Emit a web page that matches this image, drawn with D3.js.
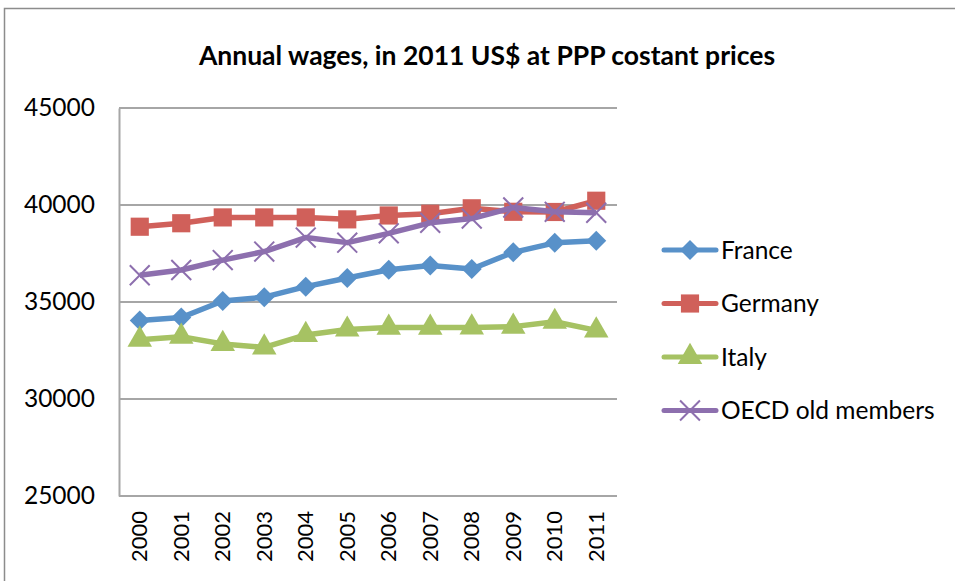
<!DOCTYPE html>
<html>
<head>
<meta charset="utf-8">
<script src="https://cdn.jsdelivr.net/npm/d3@7"></script>
<style>
  body { margin: 0; background: #fff; }
  text { font-family: Lato, "Open Sans", sans-serif; fill: #000; }
</style>
</head>
<body>
<script>
// values
var years = ["2000","2001","2002","2003","2004","2005","2006","2007","2008","2009","2010","2011"]
var france  = [34050, 34200, 35050, 35250, 35790, 36240, 36660, 36880, 36700, 37560, 38050, 38160]
var germany = [38880, 39060, 39360, 39360, 39360, 39260, 39460, 39550, 39830, 39650, 39640, 40220]
var italy   = [33060, 33210, 32840, 32660, 33300, 33580, 33680, 33680, 33690, 33730, 33980, 33540]
var oecd    = [36380, 36650, 37160, 37600, 38320, 38060, 38540, 39080, 39300, 39870, 39650, 39600]
var seriesNames = ["France", "Germany", "Italy", "OECD old members"]
var yTicks = [25000, 30000, 35000, 40000, 45000]

var width = 955
    height = 581
var plot = {left: 119, right: 617, top: 108, bottom: 496}

var svg = d3.select("body")
  .append("svg")
    .attr("width", width)
    .attr("height", height)

// chart frame
svg.append("rect")
  .attr("x", 4.5).attr("y", 8.5)
  .attr("width", 960).attr("height", 600)
  .attr("fill", "none")
  .attr("stroke", "#8c8c8c")
  .attr("stroke-width", 1.5)

svg.append("text")
  .attr("x", 487).attr("y", 65)
  .attr("text-anchor", "middle")
  .style("font-size", "26.5px")
  .style("font-weight", "bold")
  .text("Annual wages, in 2011 US$ at PPP costant prices")

var x = d3.scaleBand().domain(years).range([plot.left, plot.right])
var y = d3.scaleLinear().domain([25000, 45000]).range([plot.bottom, plot.top])

// gridlines
svg.append("g")
  .selectAll("line")
  .data(yTicks)
  .enter()
  .append("line")
    .attr("x1", plot.left).attr("x2", plot.right)
    .attr("y1", function(d){ return y(d) }).attr("y2", function(d){ return y(d) })
    .attr("stroke", "#a6a6a6")
    .attr("stroke-width", 2)

// y axis
var yAxis = svg.append("g")
  .attr("transform", "translate(" + plot.left + ",0)")
  .call(d3.axisLeft(y).tickValues(yTicks).tickSize(0).tickPadding(24).tickFormat(d3.format("d")))
yAxis.select(".domain").attr("stroke", "#a6a6a6").attr("stroke-width", 2)
yAxis.selectAll("text").style("font-size", "24.5px").style("font-family", "Lato, 'Open Sans', sans-serif")

// x axis labels, rotated
var xAxis = svg.append("g")
  .attr("transform", "translate(0," + plot.bottom + ")")
  .call(d3.axisBottom(x).tickSize(0).tickPadding(0))
xAxis.select(".domain").remove()
xAxis.selectAll("text")
  .style("font-size", "22px")
  .style("font-family", "Lato, 'Open Sans', sans-serif")
  .attr("transform", "rotate(-90)")
  .attr("text-anchor", "end")
  .attr("x", -15)
  .attr("y", 0)
  .attr("dy", "0.35em")

var series = [
  {name: seriesNames[0], values: france,  color: "#5891c9", marker: "diamond"},
  {name: seriesNames[1], values: germany, color: "#d0605a", marker: "square"},
  {name: seriesNames[2], values: italy,   color: "#a6c263", marker: "triangle"},
  {name: seriesNames[3], values: oecd,    color: "#8d6fae", marker: "cross"}
]

var symbolFor = {
  diamond: d3.symbol().type(d3.symbolSquare).size(200),
  square: d3.symbol().type(d3.symbolSquare).size(330),
  triangle: d3.symbol().type(d3.symbolTriangle).size(260),
  cross: d3.symbol().type(d3.symbolX).size(260)
}

var line = d3.line()
  .x(function(d, i){ return x(years[i]) + x.bandwidth() / 2 })
  .y(function(d){ return y(d) })

function drawMarker(g, s, cx, cy) {
  var m = g.append("path")
    .attr("d", symbolFor[s.marker]())
    .attr("transform", "translate(" + cx + "," + cy + ")" + (s.marker === "diamond" ? " rotate(45)" : ""))
  if (s.marker === "cross") {
    m.attr("fill", "none").attr("stroke", s.color).attr("stroke-width", 2)
  } else {
    m.attr("fill", s.color)
  }
}

series.forEach(function(s) {
  var g = svg.append("g")
  g.append("path")
    .datum(s.values)
    .attr("d", line)
    .attr("fill", "none")
    .attr("stroke", s.color)
    .attr("stroke-width", 5.5)
    .attr("stroke-linejoin", "round")
  s.values.forEach(function(v, i) {
    drawMarker(g, s, x(years[i]) + x.bandwidth() / 2, y(v))
  })
})

// legend
var legend = svg.append("g")
series.forEach(function(s, i) {
  var ly = 250 + i * 53.5
  var g = legend.append("g")
  g.append("line")
    .attr("x1", 664).attr("x2", 716)
    .attr("y1", ly).attr("y2", ly)
    .attr("stroke", s.color)
    .attr("stroke-width", 5)
    .attr("stroke-linecap", "round")
  drawMarker(g, s, 690, ly)
  g.append("text")
    .attr("x", 721).attr("y", ly)
    .attr("dy", "0.35em")
    .style("font-size", "24.5px")
    .text(s.name)
})
</script>
</body>
</html>
